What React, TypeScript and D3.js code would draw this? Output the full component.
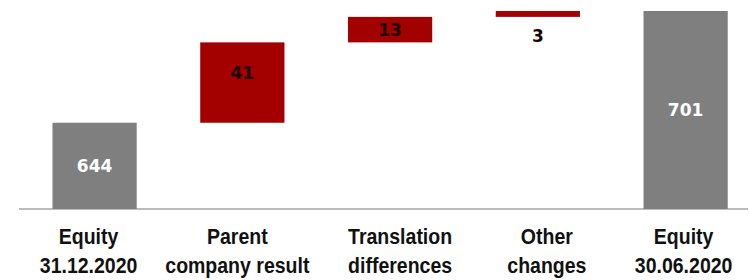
import { useEffect, useRef } from 'react';
import * as d3 from 'd3';

// Chart data
const categoryTop = ['Equity', 'Parent', 'Translation', 'Other', 'Equity'];
const categoryBottom = ['31.12.2020', 'company result', 'differences', 'changes', '30.06.2020'];
const openingEquity = 644;
const changes = [41, 13, 3];
const closingEquity = 701;
const axisStart = 600;

type Step = {
  name: string;
  from: number;
  to: number;
  label: number;
  total: boolean;
};

function buildSteps(): Step[] {
  const steps: Step[] = [];
  steps.push({ name: categoryTop[0] + categoryBottom[0], from: axisStart, to: openingEquity, label: openingEquity, total: true });
  let running = openingEquity;
  changes.forEach((c, i) => {
    steps.push({ name: categoryTop[i + 1] + categoryBottom[i + 1], from: running, to: running + c, label: c, total: false });
    running += c;
  });
  steps.push({ name: categoryTop[4] + categoryBottom[4], from: axisStart, to: closingEquity, label: closingEquity, total: true });
  return steps;
}

function App() {
  const ref = useRef(null);

  const svgWidth = 749;
  const svgHeight = 280;

  useEffect(() => {
    getChart(buildSteps());
  }, []);

  function getChart(dataset: Step[]) {
    const baseline = 209;
    const svg = d3.select(ref.current);
    svg.selectAll('*').remove();

    const x = d3
      .scaleBand()
      .domain(dataset.map((d) => d.name))
      .range([20.7, 759.5])
      .paddingInner(0.43)
      .paddingOuter(0.215);

    const y = d3.scaleLinear().domain([axisStart, closingEquity]).range([baseline, 11]);

    // Baseline
    svg
      .append('line')
      .attr('x1', 19)
      .attr('x2', 748)
      .attr('y1', baseline)
      .attr('y2', baseline)
      .attr('stroke', '#a6a6a6')
      .attr('stroke-width', 1.5);

    // Bars
    svg
      .append('g')
      .selectAll()
      .data(dataset)
      .join('rect')
      .attr('x', (d) => x(d.name) as number)
      .attr('y', (d) => y(Math.max(d.from, d.to)))
      .attr('width', x.bandwidth())
      .attr('height', (d) => Math.abs(y(d.from) - y(d.to)))
      .attr('fill', (d) => (d.total ? '#7f7f7f' : '#a30000'));

    // Value labels
    svg
      .append('g')
      .attr('font-family', '"DejaVu Sans", Verdana, sans-serif')
      .attr('font-weight', 'bold')
      .attr('font-size', 17)
      .attr('text-anchor', 'middle')
      .selectAll()
      .data(dataset)
      .join('text')
      .attr('x', (d) => (x(d.name) as number) + x.bandwidth() / 2)
      .attr('y', (d, i) => {
        const top = y(Math.max(d.from, d.to));
        const bottom = y(Math.min(d.from, d.to));
        if (bottom - top < 12) return bottom + 19;
        const mid = (top + bottom) / 2;
        return i === 1 ? mid - 10 : mid;
      })
      .attr('dy', '0.36em')
      .attr('fill', (d) => (d.total ? '#ffffff' : '#1c0404'))
      .text((d) => d.label);

    // Category labels, slightly stretched vertically
    const shift = [-6, -5, 10, 9, -2];
    const labels = svg
      .append('g')
      .attr('font-family', '"Liberation Sans", Arial, sans-serif')
      .attr('font-weight', 'bold')
      .attr('font-size', 19.5)
      .attr('text-anchor', 'middle')
      .attr('fill', '#111');

    dataset.forEach((d, i) => {
      const cx = (x(d.name) as number) + x.bandwidth() / 2 + shift[i];
      labels
        .append('text')
        .attr('transform', `translate(${cx}, 244) scale(1, 1.17)`)
        .text(categoryTop[i]);
      labels
        .append('text')
        .attr('transform', `translate(${cx}, 273) scale(1, 1.17)`)
        .text(categoryBottom[i]);
    });
  }

  return (
    <svg
      ref={ref}
      width={svgWidth}
      height={svgHeight}
      style={{ position: 'absolute', left: 0, top: 0, background: '#fff' }}
    ></svg>
  );
}

export default App;
